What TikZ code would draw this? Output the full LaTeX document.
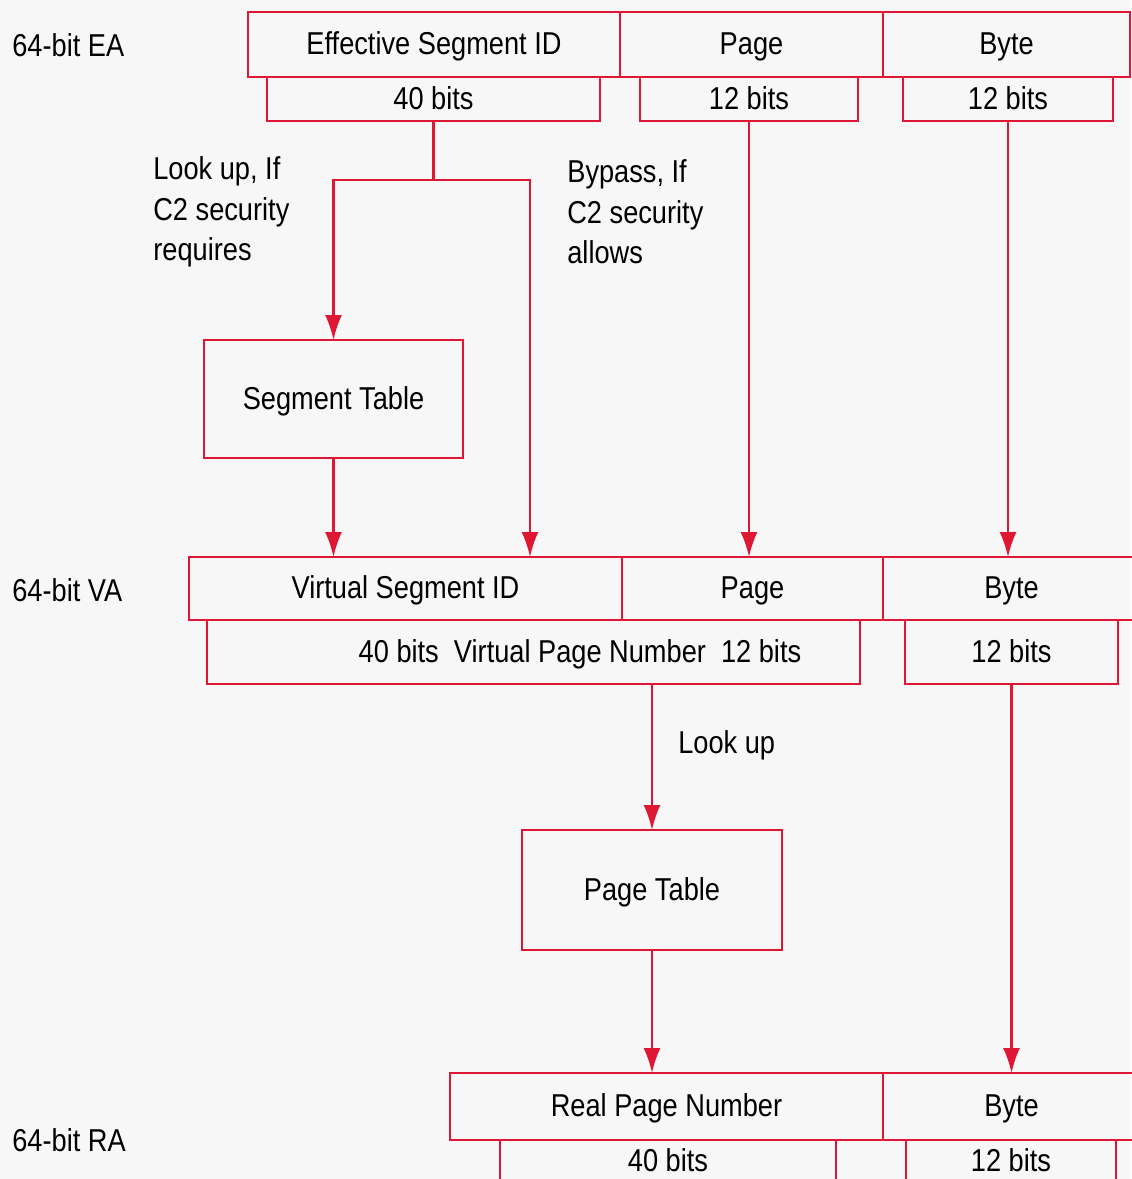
\documentclass[tikz,border=0pt]{standalone}
\usepackage{fontspec}
\setmainfont{Liberation Sans}[FakeStretch=0.86]
\usetikzlibrary{arrows.meta}
\definecolor{boxred}{RGB}{222,24,52}

\begin{document}
\begin{tikzpicture}[field/.style={draw=boxred, line width=1.2pt, inner sep=0pt, outer sep=0pt, text height=13pt, text depth=1.5pt, font=\fontsize{18}{21}\selectfont}, tag/.style={inner sep=0pt, align=left, font=\fontsize{18}{23}\selectfont}, arr/.style={-{Latex[length=5mm, width=3.4mm]}, draw=boxred, line width=1.2pt}]
\fill[black!3] (0,0) rectangle (22.62,-23.58);
\useasboundingbox (0,0) rectangle (22.62,-23.58);

% 64-bit EA
\node[tag, anchor=west] (ea) at (0.24, -0.9) {64-bit EA};
\node[field, minimum width=7.44cm, minimum height=1.3cm] (ea_esid) at (8.68, -0.89) {Effective Segment ID};
\node[field, minimum width=5.26cm, minimum height=1.3cm] (ea_page) at (15.03, -0.89) {Page};
\node[field, minimum width=4.94cm, minimum height=1.3cm] (ea_byte) at (20.13, -0.89) {Byte};
\node[field, minimum width=6.66cm, minimum height=0.88cm] (ea_b40) at (8.67, -1.98) {40 bits};
\node[field, minimum width=4.36cm, minimum height=0.88cm] (ea_b12p) at (14.98, -1.98) {12 bits};
\node[field, minimum width=4.2cm, minimum height=0.88cm] (ea_b12b) at (20.16, -1.98) {12 bits};

\coordinate (fork) at (8.67, -3.6);
\coordinate (byp) at (10.6, -3.6);
\node[tag, anchor=west] (lk) at (3.06, -4.24) {Look up, If\\C2 security\\requires};
\node[tag, anchor=west] (bp) at (11.34, -4.24) {Bypass, If\\C2 security\\allows};

\node[field, minimum width=5.18cm, minimum height=2.36cm] (st) at (6.67, -7.98) {Segment Table};

% 64-bit VA
\node[tag, anchor=west] (va) at (0.24, -11.8) {64-bit VA};
\node[field, minimum width=8.66cm, minimum height=1.26cm] (va_vsid) at (8.11, -11.77) {Virtual Segment ID};
\node[field, minimum width=5.22cm, minimum height=1.26cm] (va_page) at (15.05, -11.77) {Page};
\node[field, minimum width=5.14cm, minimum height=1.26cm] (va_byte) at (20.23, -11.77) {Byte};
\node[field, minimum width=13.06cm, minimum height=1.28cm] (va_bits) at (10.67, -13.04) {};
\node[field, draw=none] (va_bitstxt) at (11.6, -13.04) {40 bits~~Virtual Page Number~~12 bits};
\node[field, minimum width=4.26cm, minimum height=1.28cm] (va_b12b) at (20.23, -13.04) {12 bits};

\node[tag, anchor=west] (lu) at (13.56, -14.9) {Look up};
\node[field, minimum width=5.2cm, minimum height=2.4cm] (pt) at (13.04, -17.8) {Page Table};

% 64-bit RA
\node[tag, anchor=west] (ra) at (0.24, -22.8) {64-bit RA};
\node[field, minimum width=8.66cm, minimum height=1.34cm] (ra_rpn) at (13.33, -22.13) {Real Page Number};
\node[field, minimum width=5.14cm, minimum height=1.34cm] (ra_byte) at (20.23, -22.13) {Byte};
\node[field, minimum width=6.72cm, minimum height=0.84cm] (ra_b40) at (13.36, -23.22) {40 bits};
\node[field, minimum width=4.2cm, minimum height=0.84cm] (ra_b12b) at (20.22, -23.22) {12 bits};

\draw[draw=boxred, line width=1.2pt] (ea_b40.south) -- (fork);
\draw[arr] (fork) -| (st.north);
\draw[arr] (fork) -- (byp) -- (byp |- va_vsid.north);
\draw[arr] (st.south) -- (st.south |- va_vsid.north);
\draw[arr] (ea_b12p.south) -- (ea_b12p.south |- va_page.north);
\draw[arr] (ea_b12b.south) -- (ea_b12b.south |- va_byte.north);

\draw[arr] (pt.north |- va_bits.south) -- (pt.north);
\draw[arr] (pt.south) -- (pt.south |- ra_rpn.north);
\draw[arr] (va_b12b.south) -- (va_b12b.south |- ra_byte.north);
\end{tikzpicture}
\end{document}
